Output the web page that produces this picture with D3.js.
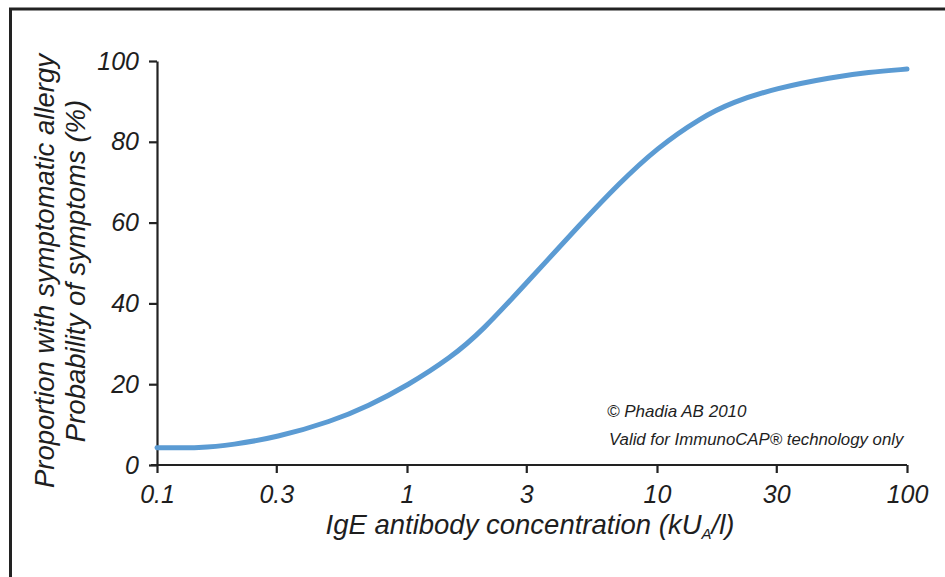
<!DOCTYPE html>
<html>
<head>
<meta charset="utf-8">
<script src="https://cdn.jsdelivr.net/npm/d3@7"></script>
<style>
  html, body { margin: 0; padding: 0; background: #fff; }
  svg { display: block; }
  text { font-family: "Liberation Sans", Arial, sans-serif; font-style: italic; fill: #1e1e1e; }
</style>
</head>
<body>
<svg id="chart" width="945" height="577"></svg>
<script>
// ---- data ----
const concentrations = [0.1, 0.15, 0.2, 0.3, 0.5, 0.7, 1, 1.5, 2, 3, 5, 7, 10, 15, 20, 30, 50, 70, 100];
const probabilities  = [4.3, 4.2, 5.0, 6.8, 10.8, 14.6, 19.6, 26.6, 33.2, 45, 60, 69.5, 78.5, 86, 89.8, 93.3, 96, 97.2, 98];
const xTickValues = [0.1, 0.3, 1, 3, 10, 30, 100];
const xTickLabels = ["0.1", "0.3", "1", "3", "10", "30", "100"];
const yTickValues = [0, 20, 40, 60, 80, 100];
const yTitleLines = ["Proportion with symptomatic allergy", "Probability of symptoms (%)"];
const notes = ["© Phadia AB 2010", "Valid for ImmunoCAP® technology only"];

const svg = d3.select("#chart");

// frame (left and top border)
svg.append("path")
  .attr("d", "M10.5,577 L10.5,9 L945,9")
  .attr("fill", "none").attr("stroke", "#222").attr("stroke-width", 3);

const x = d3.scaleLog().domain([0.1, 100]).range([157, 907]);
const y = d3.scaleLinear().domain([0, 100]).range([465, 61]);

// y axis
const yAxis = svg.append("g").attr("transform", "translate(157,0)")
  .call(d3.axisLeft(y).tickValues(yTickValues).tickFormat(d3.format("d"))
        .tickSize(8).tickSizeOuter(0).tickPadding(10));
// x axis
const xAxis = svg.append("g").attr("transform", "translate(0,465)")
  .call(d3.axisBottom(x).tickValues(xTickValues)
        .tickFormat((d, i) => xTickLabels[i])
        .tickSize(8).tickSizeOuter(0).tickPadding(12));

[yAxis, xAxis].forEach(g => {
  g.selectAll(".domain").attr("stroke", "#222").attr("stroke-width", 2.2);
  g.selectAll(".tick line").attr("stroke", "#222").attr("stroke-width", 2.2);
  g.selectAll(".tick text").attr("font-size", 25)
    .attr("font-family", "Liberation Sans, Arial, sans-serif")
    .attr("font-style", "italic").attr("fill", "#1e1e1e");
});
// extend x axis line left to meet the 0 tick
xAxis.select(".domain").attr("d", "M151,0H907");

// curve
const line = d3.line()
  .x((d, i) => x(concentrations[i]))
  .y(d => y(d))
  .curve(d3.curveBasis);
svg.append("path")
  .datum(probabilities)
  .attr("d", line)
  .attr("fill", "none")
  .attr("stroke", "#5b9bd3")
  .attr("stroke-width", 5)
  .attr("stroke-linecap", "round");

// y titles
const yT = svg.append("text")
  .attr("transform", "translate(0,271) rotate(-90)")
  .attr("text-anchor", "middle")
  .attr("font-size", 27.5);
yT.append("tspan").attr("x", 0).attr("y", 54).text(yTitleLines[0]);
yT.append("tspan").attr("x", 0).attr("y", 85).text(yTitleLines[1]);

// x title
const xT = svg.append("text")
  .attr("x", 530).attr("y", 534)
  .attr("text-anchor", "middle")
  .attr("font-size", 27.5);
xT.append("tspan").text("IgE antibody concentration (kU");
xT.append("tspan").attr("font-size", 15).attr("dy", 5).text("A");
xT.append("tspan").attr("dy", -5).text("/l)");

// notes
svg.append("text").attr("x", 607).attr("y", 417).attr("font-size", 17).text(notes[0]);
svg.append("text").attr("x", 609).attr("y", 445).attr("font-size", 16.8).text(notes[1]);
</script>
</body>
</html>
